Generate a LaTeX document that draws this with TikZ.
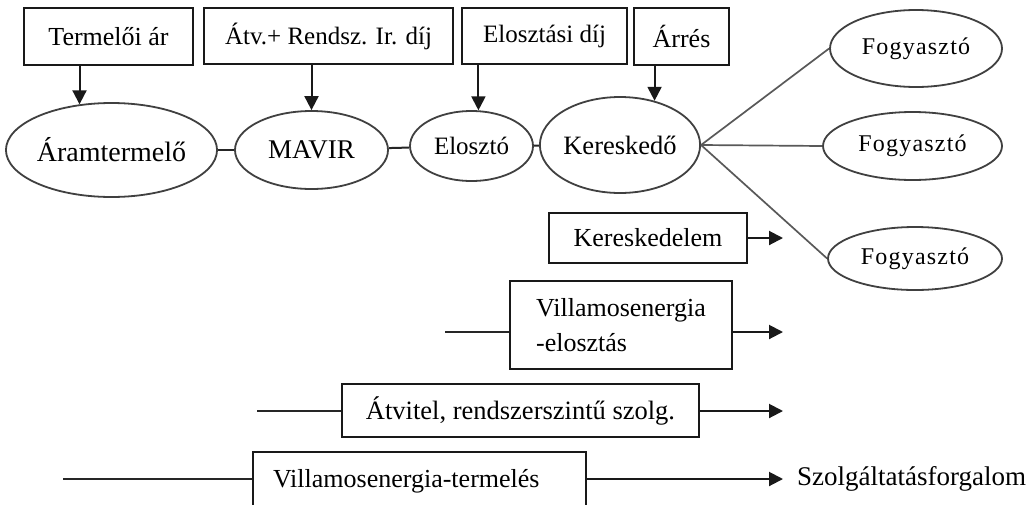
\documentclass[tikz,border=0pt]{standalone}
\usepackage{fontspec}
\setmainfont{Liberation Serif}
\usetikzlibrary{shapes.geometric,arrows.meta,calc}
\newcommand\fsz[1]{\fontsize{#1}{#1}\selectfont}
\begin{document}
\begin{tikzpicture}[x=1pt,y=-1pt,
  box/.style={draw=black!90, line width=2pt, rectangle, inner sep=0pt, align=center, font=\fsz{26}, text=black},
  oval/.style={draw=black!75, line width=1.8pt, ellipse, inner sep=0pt, text=black},
  arr/.style={draw=black!90, line width=2pt, -{Triangle[length=14pt,width=14pt]}},
  ln/.style={draw=black!85, line width=2pt},
  thin/.style={draw=black!65, line width=1.7pt}]
\useasboundingbox (0,0) rectangle (1030,504);
\clip (0,0) rectangle (1030,504);
\fill[white] (0,0) rectangle (1030,504);

% top boxes
\node[box, minimum width=169pt, minimum height=57pt] (t1) at (108.5,36.5) {Termelői ár};
\node[box, minimum width=249pt, minimum height=56pt, font=\fsz{25}] (t2) at (328.5,36) {Átv.+ Rendsz. Ir. díj};
\node[box, minimum width=165pt, minimum height=56pt, font=\fsz{25}] (t3) at (544.5,36) {Elosztási díj};
\node[box, minimum width=95pt, minimum height=57pt] (t4) at (681.5,36.5) {Árrés};

% chain ellipses
\node[oval, minimum width=207pt, minimum height=94pt, font=\fsz{28}] (a1) at (111.5,150) {Áramtermelő};
\node[oval, minimum width=153pt, minimum height=78pt, font=\fsz{27}] (mv) at (311.5,150) {MAVIR};
\node[oval, minimum width=123pt, minimum height=70pt, font=\fsz{25}] (el) at (471.5,146) {Elosztó};
\node[oval, minimum width=146pt, minimum height=96pt, font=\fsz{26.5}] (ke) at (620,145) {Kereskedő};

% consumers
\node[oval, minimum width=172pt, minimum height=77pt, font=\fsz{24}\addfontfeature{LetterSpace=5}] (f1) at (916,48.5) {Fogyasztó};
\node[oval, minimum width=179pt, minimum height=68pt, font=\fsz{24}\addfontfeature{LetterSpace=5}] (f2) at (912.5,146) {Fogyasztó};
\node[oval, minimum width=174pt, minimum height=63pt, font=\fsz{24}\addfontfeature{LetterSpace=5}] (f3) at (915,258.5) {Fogyasztó};

% price arrows
\draw[arr] (t1.south -| a1.125.1) -- (a1.125.1);
\draw[arr] (t2.south -| mv.north) -- (mv.north);
\draw[arr] (t3.south -| el.79.4) -- (el.79.4);
\draw[arr] (t4.south -| ke.52.4) -- (ke.52.4);

% chain links
\draw[ln] (a1) -- (mv);
\draw[ln] (mv) -- (el);
\draw[ln] (el) -- (ke);

% to consumers
\draw[thin] (ke.east) -- (f1.west);
\draw[thin] (ke.east) -- (f2.west);
\draw[thin] (ke.east) -- (f3.west);

% value chain levels
\node[box, minimum width=198pt, minimum height=50pt] (kd) at (648,238) {Kereskedelem};
\coordinate (kdE) at (783,238);
\draw[arr] (kd.east) -- (kdE);

\node[box, minimum width=222pt, minimum height=88pt, align=left, font=\fontsize{26}{35}\selectfont] (vd) at (621,325) {Villamosenergia\\-elosztás};
\coordinate (vdW) at (445,332);
\coordinate (vdE) at (783,332);
\draw[ln] (vdW) -- (vdW -| vd.west);
\draw[arr] (vdE -| vd.east) -- (vdE);

\node[box, minimum width=357pt, minimum height=53pt, font=\fsz{26.5}] (at) at (520.5,410.5) {Átvitel, rendszerszintű szolg.};
\coordinate (atW) at (257,411);
\coordinate (atE) at (783,411);
\draw[ln] (atW) -- (atW -| at.west);
\draw[arr] (atE -| at.east) -- (atE);

\node[box, text width=293pt, inner xsep=20pt, minimum height=58pt, align=left] (vt) at (419.5,481) {Villamosenergia-termelés};
\coordinate (vtW) at (63,479);
\draw[ln] (vtW) -- (vtW -| vt.west);
\node[anchor=west, inner sep=0pt, font=\fsz{27}, text=black] (sz) at (797,479) {Szolgáltatásforgalom};
\draw[arr] (vtW -| vt.east) -- (sz.west -| 783,0);
\end{tikzpicture}
\end{document}
